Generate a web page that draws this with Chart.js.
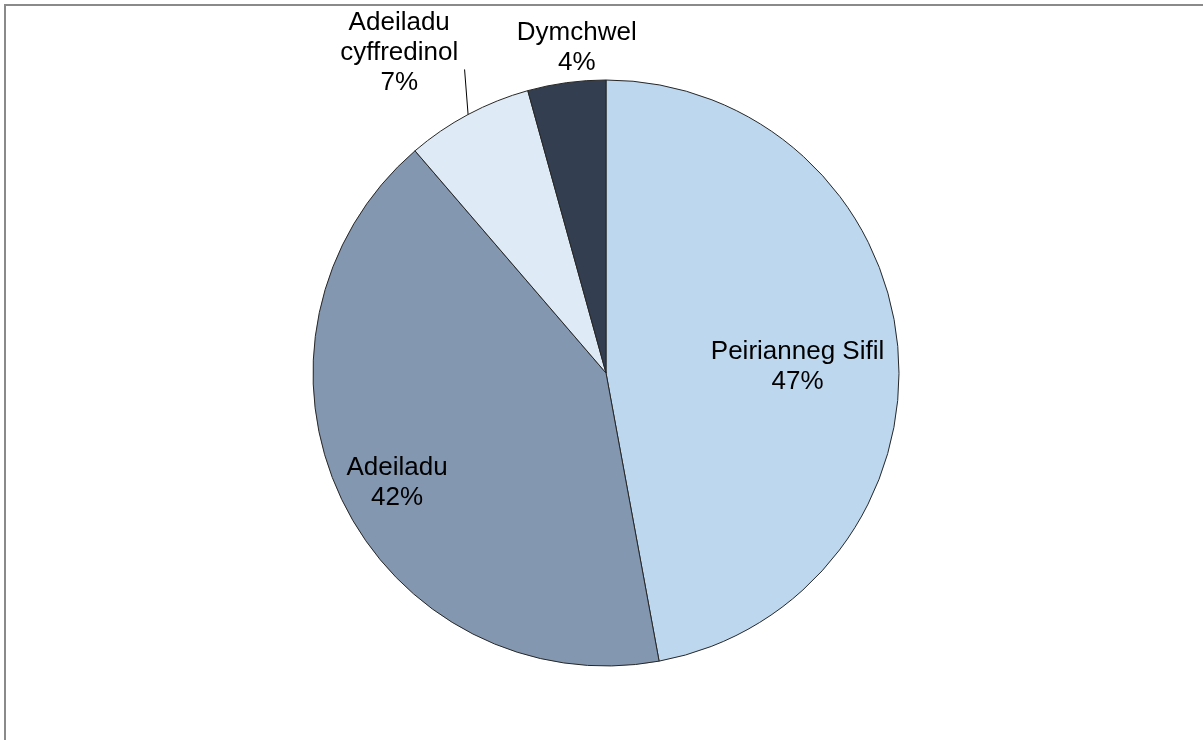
<!DOCTYPE html>
<html>
<head>
<meta charset="utf-8">
<script src="https://cdn.jsdelivr.net/npm/chart.js@4.4.1/dist/chart.umd.min.js"></script>
<style>
  html, body { margin: 0; padding: 0; background: #fff; }
  #wrap { position: relative; width: 1203px; height: 740px; }
</style>
</head>
<body>
<div id="wrap"><canvas id="pieChart"></canvas></div>
<script>
// data
const categories = ['Peirianneg Sifil', 'Adeiladu', 'Adeiladu cyffredinol', 'Dymchwel'];
const labelLines = [['Peirianneg Sifil'], ['Adeiladu'], ['Adeiladu', 'cyffredinol'], ['Dymchwel']];
const shares = [47.1, 41.6, 7.0, 4.3];
const sliceColors = ['#bdd7ee', '#8497b0', '#deebf7', '#333f50'];

// label placement per slice: angle shift (deg) from slice middle, distance as fraction of radius
const labelPlacement = [
    { shift: 3.4, r: 0.654 },
    { shift: -2.1, r: 0.805 },
    { shift: -4.8, r: 1.30, leader: { shift: 3.1, r: 1.143 } },
    { shift: 2.6, r: 1.115 }
];

const frame = {
    id: 'frame',
    beforeDraw(chart) {
        const ctx = chart.ctx;
        ctx.save();
        ctx.strokeStyle = '#8a8a8a';
        ctx.lineWidth = 2;
        ctx.strokeRect(5, 5, 1400, 1000);
        ctx.restore();
    }
};

const sliceLabels = {
    id: 'sliceLabels',
    afterDatasetsDraw(chart) {
        const ctx = chart.ctx;
        const meta = chart.getDatasetMeta(0);
        const total = shares.reduce((a, b) => a + b, 0);
        ctx.save();
        ctx.font = '26px "Liberation Sans", Arial, sans-serif';
        ctx.fillStyle = '#000';
        ctx.textAlign = 'center';
        ctx.textBaseline = 'middle';
        meta.data.forEach((arc, i) => {
            const p = labelPlacement[i];
            const mid = (arc.startAngle + arc.endAngle) / 2;
            const R = arc.outerRadius;
            const a = mid + p.shift * Math.PI / 180;
            const cx = arc.x + Math.cos(a) * R * p.r;
            const cy = arc.y + Math.sin(a) * R * p.r;
            const lines = labelLines[i].concat([Math.round(shares[i] / total * 100) + '%']);
            const lh = 30;
            const top = cy - (lines.length - 1) * lh / 2;
            lines.forEach((t, k) => ctx.fillText(t, cx, top + k * lh));
            if (p.leader) {
                const b = mid + p.leader.shift * Math.PI / 180;
                ctx.beginPath();
                ctx.strokeStyle = '#000';
                ctx.lineWidth = 1;
                ctx.moveTo(arc.x + Math.cos(mid) * R, arc.y + Math.sin(mid) * R);
                ctx.lineTo(arc.x + Math.cos(b) * R * p.leader.r, arc.y + Math.sin(b) * R * p.leader.r);
                ctx.stroke();
            }
        });
        ctx.restore();
    }
};

new Chart(document.getElementById('pieChart').getContext('2d'), {
    type: 'pie',
    data: {
        labels: categories,
        datasets: [{
            data: shares,
            backgroundColor: sliceColors,
            borderColor: '#262626',
            borderWidth: 1
        }]
    },
    options: {
        responsive: true,
        maintainAspectRatio: false,
        animation: false,
        radius: 293,
        layout: {
            padding: { left: 9, right: 0, top: 80, bottom: 74 }
        },
        plugins: {
            legend: { display: false },
            tooltip: { enabled: false }
        }
    },
    plugins: [frame, sliceLabels]
});
</script>
</body>
</html>
